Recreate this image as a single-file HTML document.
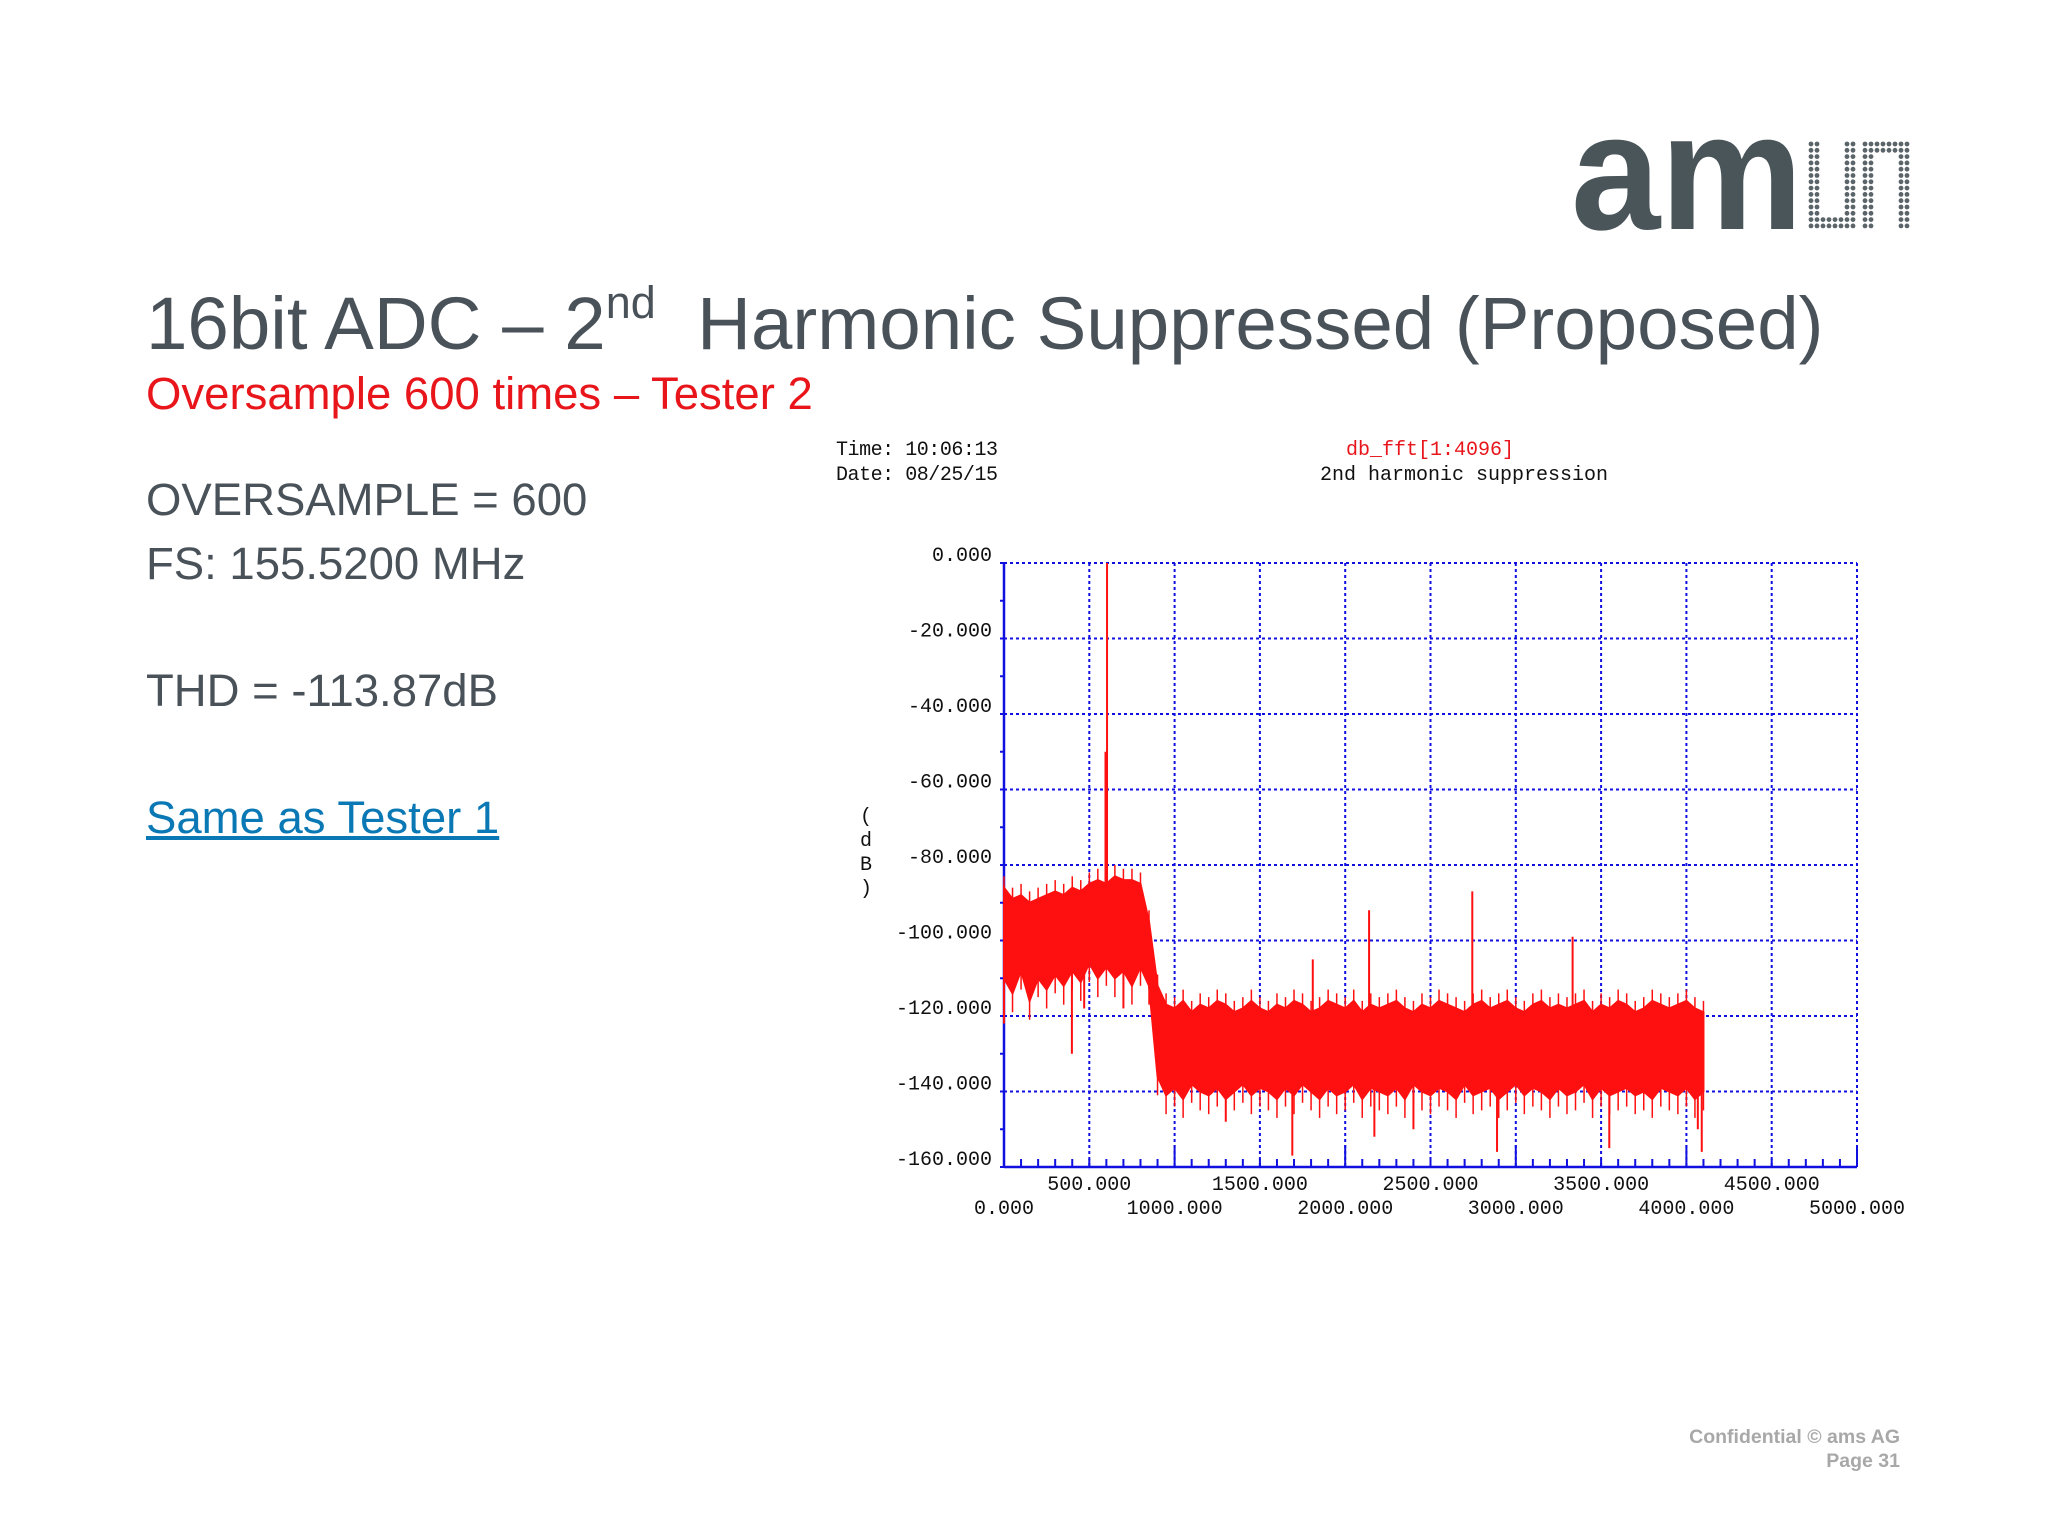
<!DOCTYPE html>
<html><head><meta charset="utf-8"><style>
html,body{margin:0;padding:0;background:#fff;}
body{width:2048px;height:1536px;position:relative;overflow:hidden;font-family:"Liberation Sans",sans-serif;}
.abs{position:absolute;white-space:nowrap;}
</style></head><body>
<div class="abs" style="left:146px;top:281px;font-size:74.5px;color:#4a5259;">16bit ADC – 2<sup style="font-size:45px;vertical-align:0;position:relative;top:-31px;">nd</sup>&nbsp; Harmonic Suppressed (Proposed)</div>
<div class="abs" style="left:146px;top:368px;font-size:45.5px;color:#e8151b;">Oversample 600 times – Tester 2</div>
<div class="abs" style="left:146px;top:474px;font-size:45.5px;color:#4a5259;">OVERSAMPLE = 600</div>
<div class="abs" style="left:146px;top:538px;font-size:45.5px;color:#4a5259;">FS: 155.5200 MHz</div>
<div class="abs" style="left:146px;top:665px;font-size:45.5px;color:#4a5259;">THD = -113.87dB</div>
<div class="abs" style="left:146px;top:792px;font-size:45.5px;color:#0a78b4;text-decoration:underline;">Same as Tester 1</div>
<div class="abs" style="right:148px;top:1425px;font-size:19.5px;font-weight:bold;color:#a8a8a8;text-align:right;line-height:24px;">Confidential © ams AG<br>Page 31</div>
<svg class="abs" style="left:1565px;top:130px" width="350" height="110">
<text x="6" y="99" font-family="Liberation Sans" font-weight="bold" font-size="166" fill="#4a555a" textLength="232" lengthAdjust="spacingAndGlyphs">am</text>
<g id="dots" fill="#5a6469"></g>
</svg>
<svg id="chart" class="abs" style="left:0;top:0" width="2048" height="1536"></svg>
<script>
const yTicks=[0,-20,-40,-60,-80,-100,-120,-140,-160];
const yTickLabels=["0.000","-20.000","-40.000","-60.000","-80.000","-100.000","-120.000","-140.000","-160.000"];
const xTicks=[0,500,1000,1500,2000,2500,3000,3500,4000,4500,5000];
const xTickLabels=["0.000","500.000","1000.000","1500.000","2000.000","2500.000","3000.000","3500.000","4000.000","4500.000","5000.000"];
const freqs=[0,50,100,150,200,250,300,350,400,450,500,550,600,650,700,750,800,850,900,950,1000,1050,1100,1150,1200,1250,1300,1350,1400,1450,1500,1550,1600,1650,1700,1750,1800,1850,1900,1950,2000,2050,2100,2150,2200,2250,2300,2350,2400,2450,2500,2550,2600,2650,2700,2750,2800,2850,2900,2950,3000,3050,3100,3150,3200,3250,3300,3350,3400,3450,3500,3550,3600,3650,3700,3750,3800,3850,3900,3950,4000,4050,4100];
const upperDb=[-86,-89,-88,-90,-89,-88,-87,-88,-86,-87,-85,-84,-85,-83,-84,-84,-85,-95,-112,-117,-118,-116,-119,-117,-118,-116,-117,-119,-118,-116,-118,-119,-117,-118,-116,-117,-119,-118,-116,-117,-118,-116,-119,-117,-118,-117,-116,-118,-119,-117,-118,-116,-117,-118,-119,-117,-116,-118,-117,-116,-118,-119,-117,-116,-118,-117,-118,-117,-116,-119,-117,-118,-116,-117,-119,-118,-116,-117,-118,-117,-116,-118,-119];
const lowerDb=[-110,-114,-108,-116,-110,-113,-109,-112,-108,-111,-106,-110,-107,-110,-108,-112,-107,-112,-136,-141,-139,-142,-138,-140,-141,-139,-142,-140,-138,-141,-139,-140,-142,-139,-141,-138,-140,-142,-139,-141,-140,-138,-142,-139,-140,-141,-139,-142,-138,-140,-141,-139,-140,-142,-138,-141,-140,-139,-142,-140,-138,-141,-139,-140,-142,-139,-141,-140,-138,-142,-139,-141,-140,-139,-141,-140,-142,-139,-140,-141,-139,-142,-140];
const spikeFreqs=[604,595,0,398,470,700,1690,1810,2140,2171,2745,2890,3333,3548,4067,4090,1300,2400];
const spikeDb=[0,-50,-122,-130,-118,-118,-157,-105,-92,-152,-87,-156,-99,-155,-150,-156,-148,-150];
const spikeBase=[-88,-88,-90,-105,-105,-105,-128,-120,-120,-128,-120,-128,-120,-128,-128,-128,-128,-128];

const NS='http://www.w3.org/2000/svg';
const svg=document.getElementById('chart');
const L=1004,R=1857,T=563,B=1167;
const xs=v=>L+(v-0)/5000*(R-L);
const ys=v=>T+(0-v)/160*(B-T);
function mk(tag,attrs,parent){const e=document.createElementNS(NS,tag);for(const k in attrs)e.setAttribute(k,attrs[k]);(parent||svg).appendChild(e);return e;}
const font='"Liberation Mono",monospace';
let t;
t=mk('text',{x:836,y:455,'font-family':font,'font-size':20,fill:'#111','textLength':162});t.textContent='Time: 10:06:13';


t=mk('text',{x:836,y:480,'font-family':font,'font-size':20,fill:'#111','textLength':162});t.textContent='Date: 08/25/15';


t=mk('text',{x:1430,y:455,'font-family':font,'font-size':20,fill:'#e8151b','text-anchor':'middle'});t.textContent='db_fft[1:4096]';


t=mk('text',{x:1464,y:480,'font-family':font,'font-size':20,fill:'#111','text-anchor':'middle'});t.textContent='2nd harmonic suppression';


['(','d','B',')'].forEach((c,i)=>{const e=mk('text',{x:866,y:822+i*24,'font-family':font,'font-size':20,fill:'#111','text-anchor':'middle'});e.textContent=c;

});
yTicks.forEach((v,i)=>{
 const g=mk('line',{x1:L,x2:R,y1:ys(v),y2:ys(v),stroke:'#1010e0','stroke-width':2,'stroke-dasharray':'3,3'});
 
 
 const e=mk('text',{x:992,y:ys(v)-2,'font-family':font,'font-size':20,fill:'#111','text-anchor':'end'});e.textContent=yTickLabels[i];
 
 
});
xTicks.forEach((v,i)=>{
 const g=mk('line',{x1:xs(v),x2:xs(v),y1:T,y2:B,stroke:'#1010e0','stroke-width':2,'stroke-dasharray':'3,3'});
 
 
 const e=mk('text',{x:xs(v),y:(i%2?1190:1214),'font-family':font,'font-size':20,fill:'#111','text-anchor':'middle'});e.textContent=xTickLabels[i];
 
 
});
for(let v=0;v>=-160;v-=10){mk('line',{x1:L-4,x2:L,y1:ys(v),y2:ys(v),stroke:'#1010e0','stroke-width':2});}
for(let v=0;v<=5000;v+=100){const big=v%1000===0;mk('line',{x1:xs(v),x2:xs(v),y1:B,y2:B-(big?22:8),stroke:'#1010e0','stroke-width':2});}
let a=mk('line',{x1:L,x2:L,y1:T,y2:B,stroke:'#1010e0','stroke-width':2.5});


a=mk('line',{x1:L,x2:R,y1:B,y2:B,stroke:'#1010e0','stroke-width':2.5});


let pts=freqs.map((f,i)=>xs(f)+','+ys(upperDb[i]));
for(let i=freqs.length-1;i>=0;i--)pts.push(xs(freqs[i])+','+ys(lowerDb[i]));
const band=mk('polygon',{points:pts.join(' '),fill:'#ff1010',stroke:'#ff1010','stroke-width':2});


freqs.forEach((f,i)=>{
 const s=mk('line',{x1:xs(f),x2:xs(f),y1:ys(upperDb[i]+3),y2:ys(lowerDb[i]-5),stroke:'#ff1010','stroke-width':1.5});
 
 
});
spikeFreqs.forEach((f,i)=>{
 const s=mk('line',{x1:xs(f),x2:xs(f),y1:ys(spikeBase[i]),y2:ys(spikeDb[i]),stroke:'#ff1010','stroke-width':2});
 
 
});
// logo dot matrix (u + n shapes)
const dg=document.getElementById('dots');
for(let r=0;r<14;r++)for(let c=0;c<17;c++){
 let on=false;
 if(c<=7){ if(c<=1||c>=6||r>=12) on=true; }
 else if(c>=9){ if(c<=10||c>=15||r<=1) on=true; }
 if(on) mk('circle',{cx:246+c*6,cy:14+r*6.3,r:2.4},dg);
}
</script>
</body></html>
